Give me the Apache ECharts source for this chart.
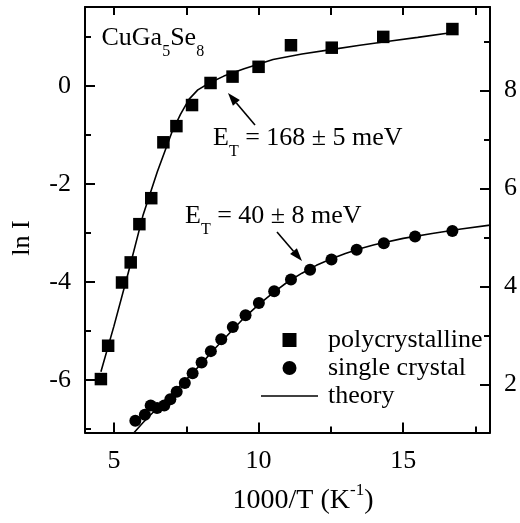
<!DOCTYPE html>
<html><head><meta charset="utf-8">
<script src="https://cdn.jsdelivr.net/npm/echarts@6/dist/echarts.min.js"></script>
<style>html,body{margin:0;padding:0;background:#fff}#c{width:520px;height:523px}</style>
</head><body><div id="c"></div>
<script>
// ---- data ----
const polyX = [4.55, 4.80, 5.28, 5.58, 5.88, 6.29, 6.71, 7.16, 7.70, 8.34, 9.10, 10.0, 11.12, 12.53, 14.31, 16.70];
const polyY = [-5.98, -5.30, -4.01, -3.60, -2.82, -2.29, -1.15, -0.82, -0.39, 0.06, 0.19, 0.39, 0.83, 0.78, 1.00, 1.16];

const singleX = [5.74, 6.07, 6.27, 6.49, 6.74, 6.95, 7.17, 7.45, 7.72, 8.03, 8.35, 8.71, 9.11, 9.55, 10.01, 10.54, 11.12, 11.78, 12.52, 13.39, 14.33, 15.41, 16.70];
const singleY = [1.26, 1.38, 1.57, 1.52, 1.57, 1.70, 1.85, 2.03, 2.23, 2.45, 2.68, 2.92, 3.17, 3.41, 3.66, 3.90, 4.14, 4.34, 4.55, 4.75, 4.88, 5.02, 5.13];

const theoryPolyX = [4.55, 5.0, 5.5, 6.0, 6.5, 7.0, 7.3, 7.6, 7.9, 8.3, 8.8, 9.5, 10.5, 11.5, 12.5, 13.5, 14.5, 15.5, 16.7];
const theoryPolyY = [-5.83, -4.9, -3.8, -2.65, -1.75, -0.95, -0.58, -0.27, -0.08, 0.06, 0.2, 0.35, 0.54, 0.65, 0.74, 0.83, 0.91, 0.99, 1.09];

const theorySingleX = [5.7, 6.0, 6.5, 7.0, 7.5, 8.0, 8.5, 9.0, 9.5, 10.0, 10.5, 11.0, 11.5, 12.0, 12.5, 13.0, 13.5, 14.0, 15.0, 16.0, 17.0, 18.0];
const theorySingleY = [1.02, 1.22, 1.52, 1.80, 2.10, 2.41, 2.74, 3.05, 3.36, 3.63, 3.87, 4.09, 4.27, 4.43, 4.56, 4.67, 4.77, 4.85, 4.98, 5.08, 5.17, 5.25];

const xMajor = [5, 10, 15];
const xMinor = [7.5, 12.5, 17.5];
const xTop = [5, 7.5, 10, 12.5, 15, 17.5];
const yLeftMajor = [-6, -4, -2, 0];
const yLeftMinor = [-7, -5, -3, -1, 1];
const yRightMajor = [2, 4, 6, 8];
const yRightMinor = [3, 5, 7, 9];

const legendNames = ['polycrystalline', 'single crystal', 'theory'];

// ---- chart ----
const FAM = '"Liberation Serif", "Times New Roman", serif';
const chart = echarts.init(document.getElementById('c'), null, {renderer: 'canvas'});
const BLACK = '#000';
const lineSt = {color: BLACK, width: 2};
const zip = (a, b) => a.map((v, i) => [v, b[i]]);

function xAxisDef(pos, ticks, len, showLine, labels) {
  return {
    type: 'value', position: pos, min: 4, max: 18,
    axisLine: {show: showLine, onZero: false, lineStyle: lineSt},
    axisTick: {show: true, inside: true, length: len, customValues: ticks, lineStyle: lineSt},
    axisLabel: labels ? {show: true, customValues: labels, margin: 16, fontSize: 26, fontFamily: FAM, color: BLACK} : {show: false},
    splitLine: {show: false}
  };
}
function yAxisDef(pos, min, max, ticks, len, showLine, labels) {
  return {
    type: 'value', position: pos, min: min, max: max,
    axisLine: {show: showLine, onZero: false, lineStyle: lineSt},
    axisTick: {show: true, inside: true, length: len, customValues: ticks, lineStyle: lineSt},
    axisLabel: labels ? {show: true, customValues: labels, margin: 14, fontSize: 26, fontFamily: FAM, color: BLACK} : {show: false},
    splitLine: {show: false}
  };
}

// text measuring for composite (sub/superscript) labels
const mctx = document.createElement('canvas').getContext('2d');
function tw(t, size) { mctx.font = size + 'px ' + FAM; return mctx.measureText(t).width; }
function composite(parts, x, y, anchor) {
  let total = 0; parts.forEach(p => total += tw(p[0], p[1]));
  let cx = anchor === 'center' ? x - total / 2 : x;
  const els = [];
  parts.forEach(p => {
    els.push({type: 'text', silent: true, style: {text: p[0], x: cx, y: y + p[2], fill: BLACK,
      font: p[1] + 'px ' + FAM, align: 'left', verticalAlign: 'middle'}});
    cx += tw(p[0], p[1]);
  });
  return els;
}
function arrow(x1, y1, x2, y2) {
  const ang = Math.atan2(y2 - y1, x2 - x1), L = 13, W = 4.5;
  const bx = x2 - L * Math.cos(ang), by = y2 - L * Math.sin(ang);
  const nx = -Math.sin(ang), ny = Math.cos(ang);
  return [
    {type: 'line', silent: true, shape: {x1: x1, y1: y1, x2: bx, y2: by}, style: {stroke: BLACK, lineWidth: 1.6}},
    {type: 'polygon', silent: true, shape: {points: [[x2, y2], [bx + nx * W, by + ny * W], [bx - nx * W, by - ny * W]]}, style: {fill: BLACK}}
  ];
}

const graphics = [].concat(
  composite([['CuGa', 26, 0], ['5', 16, 14], ['Se', 26, 0], ['8', 16, 14]], 101.5, 38, 'left'),
  composite([['E', 26, 0], ['T', 16, 13.5], [' = 168 \u00b1 5 meV', 26, 0]], 213, 138, 'left'),
  composite([['E', 26, 0], ['T', 16, 13.5], [' = 40 \u00b1 8 meV', 26, 0]], 185, 216, 'left'),
  composite([['1000/T (K', 28, 0], ['-1', 17, -10], [')', 28, 0]], 303, 501, 'center'),
  arrow(255, 125, 228, 93),
  arrow(277, 232, 302, 261),
  [{type: 'text', silent: true, x: 22, y: 238, rotation: Math.PI / 2,
    style: {text: 'ln I', fill: BLACK, font: '26px ' + FAM, align: 'center', verticalAlign: 'middle'}}]
);

chart.setOption({
  animation: false,
  color: [BLACK],
  grid: {left: 85, right: 30, top: 7, bottom: 90.5, containLabel: false, outerBoundsMode: 'none'},
  xAxis: [
    xAxisDef('bottom', xMajor, 10, true, xMajor),
    xAxisDef('bottom', xMinor, 6, false, null),
    xAxisDef('top', xTop, 8, true, null)
  ],
  yAxis: [
    yAxisDef('left', -7.07, 1.61, yLeftMajor, 10, true, yLeftMajor),
    yAxisDef('left', -7.07, 1.61, yLeftMinor, 6, false, null),
    yAxisDef('right', 1.02, 9.70, yRightMajor, 10, true, yRightMajor),
    yAxisDef('right', 1.02, 9.70, yRightMinor, 6, false, null)
  ],
  legend: {
    orient: 'vertical', left: 261, top: 327, padding: 0, itemGap: 2,
    itemWidth: 57, itemHeight: 14, selectedMode: false, symbolKeepAspect: true,
    textStyle: {fontFamily: FAM, fontSize: 26, color: BLACK, padding: [0, 0, 0, 5]},
    data: [
      {name: legendNames[0], icon: 'path://M0,0h10v10h-10z'},
      {name: legendNames[1], icon: 'circle'},
      {name: legendNames[2], icon: 'path://M0,0h57v1.6h-57z'}
    ]
  },
  series: [
    {name: legendNames[2], type: 'line', xAxisIndex: 0, yAxisIndex: 0, symbol: 'none', showSymbol: false,
     lineStyle: {color: BLACK, width: 1.6}, itemStyle: {color: BLACK}, data: zip(theoryPolyX, theoryPolyY), z: 2},
    {name: legendNames[2], type: 'line', xAxisIndex: 0, yAxisIndex: 2, symbol: 'none', showSymbol: false,
     lineStyle: {color: BLACK, width: 1.6}, itemStyle: {color: BLACK}, data: zip(theorySingleX, theorySingleY), z: 2},
    {name: legendNames[0], type: 'scatter', xAxisIndex: 0, yAxisIndex: 0, symbol: 'rect', symbolSize: 12.5,
     itemStyle: {color: BLACK, opacity: 1}, data: zip(polyX, polyY), z: 3},
    {name: legendNames[1], type: 'scatter', xAxisIndex: 0, yAxisIndex: 2, symbol: 'circle', symbolSize: 12,
     itemStyle: {color: BLACK, opacity: 1}, data: zip(singleX, singleY), z: 3}
  ],
  graphic: graphics
});
</script>
</body></html>
